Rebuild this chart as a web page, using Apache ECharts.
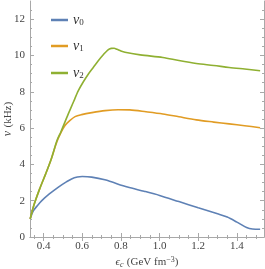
<!DOCTYPE html>
<html><head><meta charset="utf-8">
<script src="https://cdn.jsdelivr.net/npm/echarts@6/dist/echarts.min.js"></script>
<style>html,body{margin:0;padding:0;background:#fff}#c{width:265px;height:269px}</style>
</head><body><div id="c"></div>
<script>
const seriesNames = ['ν0', 'ν1', 'ν2'];
const nu0 = [[0.331,1.0],[0.348,1.45],[0.37,1.75],[0.391,2.0],[0.43,2.37],[0.477,2.75],[0.52,3.05],[0.545,3.2],[0.575,3.3],[0.6,3.33],[0.649,3.30],[0.717,3.15],[0.834,2.75],[0.92,2.52],[1.0,2.29],[1.1,1.95],[1.2,1.61],[1.3,1.28],[1.35,1.1],[1.4,0.82],[1.45,0.52],[1.48,0.44],[1.52,0.43]];
const nu1 = [[0.331,1.0],[0.35,1.75],[0.38,2.65],[0.41,3.45],[0.44,4.3],[0.469,5.25],[0.49,5.75],[0.511,6.14],[0.537,6.42],[0.563,6.63],[0.597,6.74],[0.65,6.85],[0.718,6.96],[0.786,7.01],[0.846,7.0],[0.93,6.9],[1.017,6.78],[1.1,6.62],[1.19,6.45],[1.28,6.33],[1.36,6.23],[1.44,6.13],[1.52,6.02]];
const nu2 = [[0.331,1.0],[0.35,1.75],[0.38,2.65],[0.41,3.45],[0.44,4.3],[0.469,5.3],[0.49,5.8],[0.528,6.78],[0.555,7.45],[0.58,8.06],[0.606,8.55],[0.632,8.98],[0.658,9.35],[0.683,9.71],[0.71,10.05],[0.732,10.3],[0.75,10.39],[0.765,10.4],[0.78,10.34],[0.8,10.25],[0.821,10.18],[0.9,10.03],[1.017,9.89],[1.1,9.72],[1.19,9.56],[1.28,9.45],[1.36,9.34],[1.44,9.25],[1.52,9.16]];
const xMajor = [0.4, 0.6, 0.8, 1.0, 1.2, 1.4];
const xMinor = [0.35,0.45,0.5,0.55,0.65,0.7,0.75,0.85,0.9,0.95,1.05,1.1,1.15,1.25,1.3,1.35,1.45,1.5];
const yMajor = [0, 2, 4, 6, 8, 10, 12];
const yMinor = [0.5,1,1.5,2.5,3,3.5,4.5,5,5.5,6.5,7,7.5,8.5,9,9.5,10.5,11,11.5,12.5];
const colors = ['#5E81B5', '#E19C24', '#8FB032'];
const X_MIN = 0.33, X_MAX = 1.54, Y_MIN = 0, Y_MAX = 13;

const serif = "'Liberation Serif', 'DejaVu Serif', serif";
const frame = '#a8a8a8';
function mkX(pos, major, labels) {
  return {
    type: 'value', position: pos, min: X_MIN, max: X_MAX,
    axisLine: { show: major, lineStyle: { color: frame, width: 1 } },
    axisTick: { show: true, inside: true, length: major ? 4 : 2, customValues: major ? xMajor : xMinor, lineStyle: { color: frame } },
    axisLabel: { show: labels, customValues: xMajor, formatter: v => v.toFixed(1), fontFamily: serif, fontSize: 11, color: '#444', margin: 4 },
    splitLine: { show: false }
  };
}
function mkY(pos, major, labels) {
  return {
    type: 'value', position: pos, min: Y_MIN, max: Y_MAX,
    axisLine: { show: major, lineStyle: { color: frame, width: 1 } },
    axisTick: { show: true, inside: true, length: major ? 4 : 2, customValues: major ? yMajor : yMinor, lineStyle: { color: frame } },
    axisLabel: { show: labels, customValues: yMajor, fontFamily: serif, fontSize: 11, color: '#444', margin: 5 },
    splitLine: { show: false }
  };
}
const xAxes = [mkX('bottom', true, true), mkX('bottom', false, false), mkX('top', true, false), mkX('top', false, false)];
xAxes[0].name = '{e|ϵ}{s|c} {t|(GeV fm}{p|−3}{t|)}';
xAxes[0].nameLocation = 'middle';
xAxes[0].nameGap = 19;
xAxes[0].nameMoveOverlap = false;
xAxes[0].nameTextStyle = { rich: {
  e: { fontFamily: serif, fontStyle: 'italic', fontSize: 11, color: '#444' },
  s: { fontFamily: serif, fontStyle: 'italic', fontSize: 8, color: '#444', verticalAlign: 'bottom', padding: [5,0,0,0] },
  t: { fontFamily: serif, fontSize: 11, color: '#444' },
  p: { fontFamily: serif, fontSize: 8, color: '#444', verticalAlign: 'top', padding: [0,0,5,0] }
}};
const yAxes = [mkY('left', true, true), mkY('left', false, false), mkY('right', true, false), mkY('right', false, false)];
yAxes[0].name = '{i|ν} {t|(kHz)}';
yAxes[0].nameLocation = 'middle';
yAxes[0].nameGap = 16;
yAxes[0].nameMoveOverlap = false;
yAxes[0].nameTextStyle = { rich: {
  i: { fontFamily: serif, fontStyle: 'italic', fontSize: 12, color: '#444' },
  t: { fontFamily: serif, fontSize: 11, color: '#444' }
}};

const legendRich = {
  i: { fontFamily: serif, fontStyle: 'italic', fontSize: 14, color: '#333' },
  s: { fontFamily: serif, fontSize: 9, color: '#333', verticalAlign: 'bottom', padding: [6,0,0,0] }
};
const legendTops = [8, 34, 61];
const legends = seriesNames.map((n, i) => ({
  data: [n], left: 46, top: legendTops[i], itemWidth: 17, itemHeight: 2.5, icon: 'rect', itemGap: 0,
  selectedMode: false,
  formatter: name => '{i|ν}{s|' + name.slice(1) + '}',
  textStyle: { rich: legendRich }
}));

const data = [nu0, nu1, nu2];
const chart = echarts.init(document.getElementById('c'), null, { renderer: 'canvas' });
chart.setOption({
  animation: false,
  color: colors,
  grid: { left: 30, right: 1, top: 1, bottom: 32, containLabel: false, outerBoundsMode: 'none' },
  xAxis: xAxes,
  yAxis: yAxes,
  legend: legends,
  series: seriesNames.map((n, i) => ({
    name: n, type: 'line', data: data[i], xAxisIndex: 0, yAxisIndex: 0,
    showSymbol: false, smooth: 0.3, lineStyle: { width: 1.6, color: colors[i] }, itemStyle: { color: colors[i] }
  }))
});
</script></body></html>
